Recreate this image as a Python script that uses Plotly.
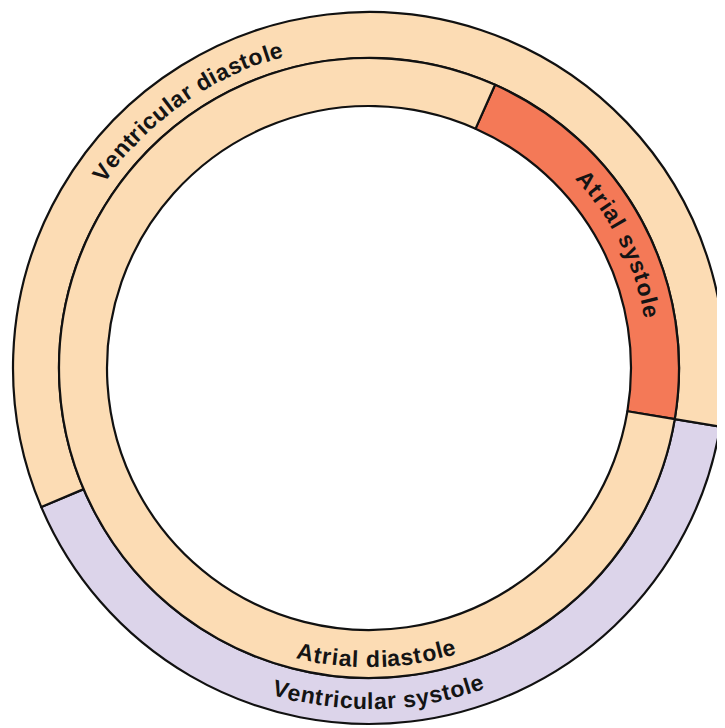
import math
import plotly.graph_objects as go

# cardiac cycle rings, values are degrees of the cycle
outer_labels = ["Ventricular systole", "Ventricular diastole"]
outer_values = [147.5, 212.5]
outer_start = 99.5  # clockwise from 12 o'clock

inner_labels = ["Atrial systole", "Atrial diastole"]
inner_values = [75.5, 284.5]
inner_start = 24

# the html body keeps an 8px margin, so the figure is shrunk by that much
W, H = 717, 720
CX, CY = 361, 360
R_OUT, R_MID, R_IN = 356, 310, 262

PEACH = "#FCDCB4"
RED = "#F47957"
LAVENDER = "#DCD4EA"
INK = "#141414"

# helvetica bold advance widths (liberation sans bold shares them)
ADV = {"V": 667, "e": 556, "n": 611, "t": 333, "r": 389, "i": 278, "c": 556,
       "u": 611, "l": 278, "a": 556, " ": 278, "d": 611, "s": 556, "o": 611,
       "A": 722, "y": 556}


def domain(r):
    return dict(x=[max(0.0, (CX - r) / W), min(1.0, (CX + r) / W)],
                y=[max(0.0, (H - CY - r) / H), min(1.0, (H - CY + r) / H)])


fig = go.Figure()
fig.add_trace(go.Pie(labels=outer_labels, values=outer_values, hole=R_MID / R_OUT,
                     domain=domain(R_OUT), rotation=outer_start, direction="clockwise",
                     sort=False, textinfo="none", showlegend=False,
                     marker=dict(colors=[LAVENDER, PEACH], line=dict(color="#111111", width=2.2))))
fig.add_trace(go.Pie(labels=inner_labels, values=inner_values, hole=R_IN / R_MID,
                     domain=domain(R_MID), rotation=inner_start, direction="clockwise",
                     sort=False, textinfo="none", showlegend=False,
                     marker=dict(colors=[RED, PEACH], line=dict(color="#111111", width=2.2))))


def curved(text, mid, span, base, bottom, size=23):
    # lay the label along the arc, one glyph at a time
    widths = [ADV[c] * size / 1000 for c in text]
    rt = base - 0.3465 * size if bottom else base + 0.3465 * size
    arc = math.radians(span) * rt
    gap = (arc - sum(widths)) / (len(text) - 1)
    s = -arc / 2
    for c, w in zip(text, widths):
        pos = s + w / 2
        s += w + gap
        if c == " ":
            continue
        d = math.degrees(pos / rt)
        th = mid - d if bottom else mid + d
        px = CX + rt * math.sin(math.radians(th))
        py = CY - rt * math.cos(math.radians(th))
        ang = th - 180 if bottom else th
        ang = (ang + 180) % 360 - 180
        fig.add_annotation(x=px / W, y=1 - py / H, xref="paper", yref="paper",
                           text=c, showarrow=False, textangle=ang,
                           xanchor="center", yanchor="middle",
                           font=dict(family="Liberation Sans", size=size, color=INK, weight="bold"))


curved("Ventricular diastole", 324.85, 39.7, 323, False)
curved("Atrial systole", 63.65, 32.3, 280, False)
curved("Atrial diastole", 178.5, 31.4, 299, True)
curved("Ventricular systole", 178.35, 36.7, 341, True)

fig.update_layout(width=W, height=H, margin=dict(l=0, r=0, t=0, b=0),
                  paper_bgcolor="white", plot_bgcolor="white")

fig.write_html("out.html")
